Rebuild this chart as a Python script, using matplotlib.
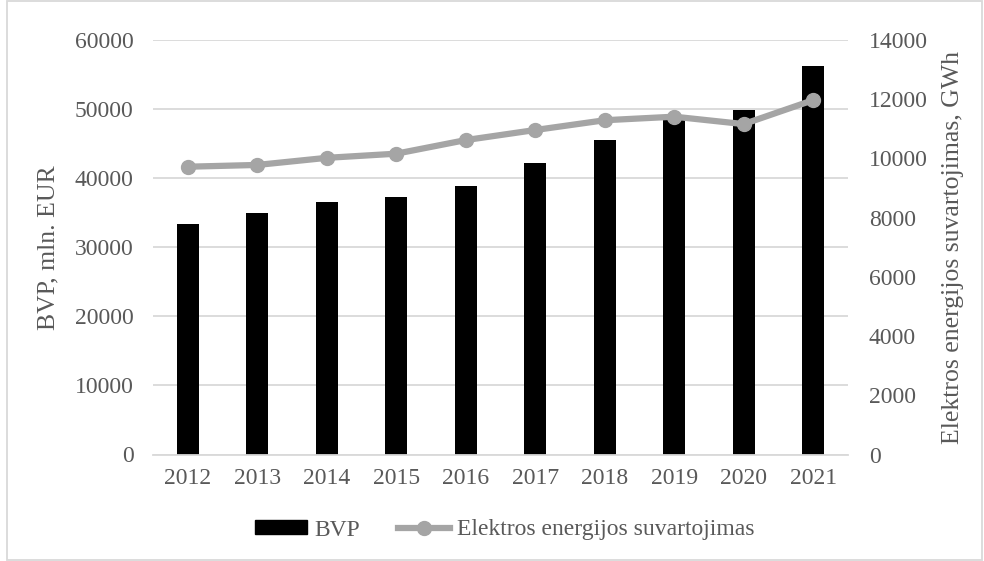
import matplotlib
matplotlib.use("Agg")
import matplotlib.pyplot as plt
from matplotlib.patches import Rectangle
from matplotlib.lines import Line2D
from matplotlib.patches import Patch
import numpy as np

years = ["2012", "2013", "2014", "2015", "2016", "2017", "2018", "2019", "2020", "2021"]
bvp = [33400, 35000, 36600, 37300, 38900, 42200, 45500, 48900, 49800, 56200]
elektra = [9720, 9780, 10020, 10160, 10620, 10960, 11290, 11410, 11160, 11970]
left_ticks = [0, 10000, 20000, 30000, 40000, 50000, 60000]
right_ticks = [0, 2000, 4000, 6000, 8000, 10000, 12000, 14000]

plt.rcParams['font.family'] = ['Liberation Serif', 'DejaVu Serif']
txt = '#595959'
grid_c = '#d9d9d9'
line_c = '#a5a5a5'

fig = plt.figure(figsize=(9.84, 5.61), dpi=100)
ax = fig.add_axes([153/984, 1 - 454.5/561, (848-153)/984, (454.5-40)/561])
x = np.arange(len(years))
ax.bar(x, bvp, width=0.31, color='black', zorder=2)
ax.set_ylim(0, 60000)
ax.set_xlim(-0.5, len(years) - 0.5)
ax.set_yticks(left_ticks)
ax.set_yticklabels([str(v) for v in left_ticks])
ax.set_xticks(x)
ax.set_xticklabels(years)
ax.yaxis.grid(True, color=grid_c, linewidth=1.3, zorder=0)
ax.set_axisbelow(True)
for s in ['top', 'right', 'left']:
    ax.spines[s].set_visible(False)
ax.spines['bottom'].set_color(grid_c)
ax.spines['bottom'].set_linewidth(1.3)
ax.tick_params(axis='both', length=0, labelsize=17, colors=txt)
ax.tick_params(axis='y', pad=14)
ax.tick_params(axis='x', pad=10)
ax.set_ylabel("BVP, mln. EUR", fontsize=18.5, color=txt, labelpad=11)

ax2 = ax.twinx()
ax2.plot(x, elektra, color=line_c, linewidth=4.5, marker='o', markersize=10, zorder=3)
ax2.set_ylim(0, 14000)
ax2.set_yticks(right_ticks)
ax2.set_yticklabels([str(v) for v in right_ticks])
for s in ['top', 'right', 'left', 'bottom']:
    ax2.spines[s].set_visible(False)
ax2.tick_params(axis='y', length=0, labelsize=17, colors=txt, pad=15)
ax2.set_ylabel("Elektros energijos suvartojimas, GWh", fontsize=18.5, color=txt, labelpad=10)

handles = [Patch(facecolor='black', edgecolor='black'),
           Line2D([0], [0], color=line_c, linewidth=4.5, marker='o', markersize=10)]
leg = fig.legend(handles, ["BVP", "Elektros energijos suvartojimas"], loc='center',
                 bbox_to_anchor=(0.513, 1 - 530/561), ncol=2, frameon=False,
                 fontsize=17, handlelength=2.2, handleheight=0.55,
                 columnspacing=1.6, handletextpad=0.3)
for t in leg.get_texts():
    t.set_color(txt)

fig.patches.append(Rectangle((7/984, 0.002), (982-7)/984, 0.996, transform=fig.transFigure,
                             fill=False, edgecolor=grid_c, linewidth=1.3))

fig.savefig("out.png", dpi=100, facecolor='white')
